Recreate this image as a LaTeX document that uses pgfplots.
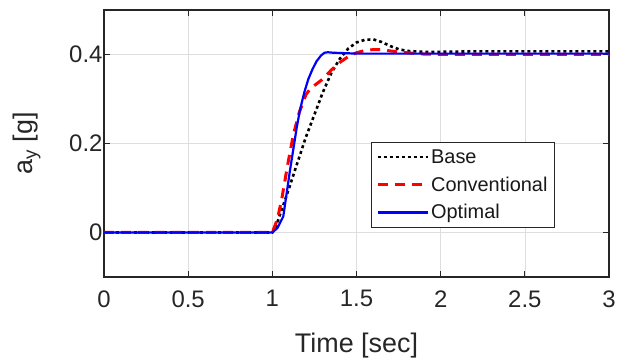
\documentclass[border=0pt]{standalone}
\usepackage{fontspec}
\setmainfont{Liberation Sans}
\usepackage{pgfplots}
\pgfplotsset{compat=1.18}
\begin{document}
\begin{tikzpicture}
\begin{axis}[
  scale only axis, width=505bp, height=267bp,
  xmin=0, xmax=3, ymin=-0.1, ymax=0.5,
  xtick={0,0.5,1,1.5,2,2.5,3}, ytick={0,0.2,0.4},
  grid=major, major grid style={line width=0.6bp, draw=black!13},
  axis line style={line width=1.1bp, draw=black!85},
  tick style={line width=1bp, draw=black!85},
  tick align=inside, major tick length=6bp, tick pos=both,
  ticklabel style={font=\fontsize{24}{28}\selectfont, text=black!85},
  xticklabel style={yshift=-10bp},
  yticklabel style={xshift=2bp},
  /pgf/number format/assume math mode=true,
  xlabel={Time [sec]}, ylabel={a\textsubscript{y} [g]},
  label style={font=\fontsize{27}{32}\selectfont, text=black!85},
  xlabel style={at={(axis description cs:0.5,-0.2846)}, anchor=base},
  ylabel style={at={(axis description cs:-0.1406,0.5)}, anchor=base, rotate=0},
  legend image code/.code={\draw[#1] (0bp,0bp) -- (50bp,0bp);},
  legend cell align=left,
  legend style={at={(0.893,0.506)}, anchor=north east, draw=black!85, line width=1bp, fill=white,
    font=\fontsize{20}{24}\selectfont, text=black!90, inner xsep=5bp, inner ysep=5bp, row sep=8bp},
]
\addplot[black, line width=2.6bp, dash pattern=on 3bp off 3bp] coordinates {
(0,0) (1.0,0) (1.02,0.012) (1.05,0.045) (1.10,0.10) (1.15,0.158) (1.20,0.215) (1.25,0.265)
(1.30,0.315) (1.35,0.358) (1.40,0.390) (1.45,0.413) (1.50,0.427) (1.55,0.433) (1.60,0.434)
(1.65,0.428) (1.70,0.419) (1.75,0.412) (1.80,0.408) (1.90,0.406) (2.0,0.406) (2.2,0.407) (3.0,0.407)};
\addlegendentry{Base}
\addplot[red, line width=3bp, dash pattern=on 10bp off 7bp] coordinates {
(0,0) (1.0,0) (1.03,0.03) (1.055,0.073) (1.09,0.15) (1.125,0.22) (1.16,0.27) (1.20,0.31)
(1.23,0.325) (1.27,0.336) (1.30,0.345) (1.35,0.365) (1.40,0.382) (1.45,0.395) (1.50,0.404)
(1.55,0.409) (1.60,0.411) (1.65,0.411) (1.70,0.408) (1.80,0.404) (1.90,0.401) (2.0,0.400) (3.0,0.400)};
\addlegendentry{Conventional}
\addplot[blue, line width=2.2bp] coordinates {
(0,0) (1.0,0) (1.03,0.01) (1.065,0.036) (1.105,0.14) (1.145,0.236) (1.164,0.275) (1.19,0.315)
(1.214,0.345) (1.24,0.368) (1.263,0.385) (1.29,0.398) (1.31,0.404) (1.33,0.405) (1.36,0.404)
(1.5,0.402) (3.0,0.402)};
\addlegendentry{Optimal}
\end{axis}
\path ([xshift=-104bp,yshift=-84bp]current axis.south west) rectangle ([xshift=10bp,yshift=10bp]current axis.north east);
\end{tikzpicture}
\end{document}
